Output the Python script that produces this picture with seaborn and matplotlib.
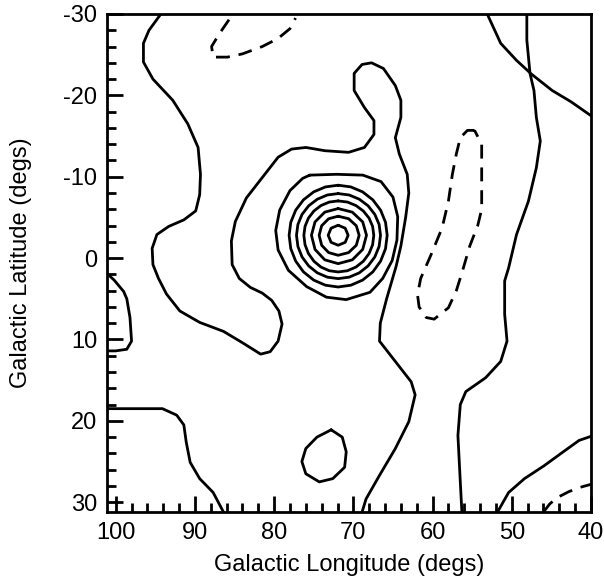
import matplotlib
matplotlib.use("Agg")
import matplotlib.pyplot as plt
from matplotlib.ticker import MultipleLocator
import seaborn as sns

# ---------------- data: traced contour lines (Galactic lon, lat in degrees) ----------------
# long solid contour running from the top edge down round the central source to the bottom edge
c1_lon = [94.3, 95.8, 96.5, 96.5, 95.3, 92.8, 90.9, 89.6, 89.3, 89.4, 89.9, 91.4, 93.3, 94.8,
          95.4, 95.3, 94.6, 93.6, 91.9, 89.4, 86.4, 84.0, 81.7, 80.5, 79.5, 79.0, 79.4, 80.3,
          81.5, 83.0, 84.4, 85.3, 85.4, 84.9, 83.5, 81.5, 79.5, 77.8, 76.0, 73.6, 70.6, 68.6,
          67.4, 67.4, 68.6, 69.9, 69.9, 68.9, 67.7, 66.2, 64.7, 64.0, 64.0, 64.7, 64.2, 63.2,
          63.0, 63.4, 64.0, 64.6, 65.8, 66.6, 66.7, 64.7, 62.7, 62.2, 63.0, 64.7, 66.7, 68.4, 68.9]
c1_lat = [-30.0, -28.0, -26.4, -24.1, -22.0, -19.4, -16.5, -13.6, -10.3, -7.8, -5.8, -4.7, -3.9, -2.9,
          -1.2, 0.8, 2.5, 4.4, 6.5, 7.9, 9.0, 10.4, 11.8, 11.5, 10.2, 8.1, 6.5, 5.2,
          4.3, 3.6, 2.5, 0.8, -2.1, -4.5, -7.4, -9.9, -12.4, -13.4, -13.6, -13.2, -13.0, -13.6,
          -15.2, -16.9, -18.5, -20.6, -22.7, -23.8, -24.0, -23.3, -21.2, -19.4, -17.3, -14.8, -12.8, -10.3,
          -8.0, -5.0, -1.5, 1.0, 5.0, 8.0, 10.2, 12.7, 15.2, 16.8, 20.1, 23.4, 26.7, 29.6, 31.2]

# small lobe on the left edge
c2_lon = [101.2, 100.2, 99.0, 98.6, 98.2, 98.0, 98.6, 100.0, 101.2]
c2_lat = [1.8, 2.7, 4.1, 5.0, 7.3, 10.2, 11.2, 11.4, 11.4]

# bottom-left contour
c3_lon = [101.2, 94.1, 92.3, 91.4, 91.1, 90.6, 89.4, 87.7, 86.4]
c3_lat = [18.5, 18.5, 19.3, 20.5, 22.6, 25.1, 27.1, 28.8, 31.2]

# small closed contour near the bottom
c4_lon = [72.8, 71.4, 70.9, 71.1, 72.6, 74.3, 76.0, 76.5, 76.0, 74.6, 72.8]
c4_lat = [21.1, 22.0, 23.8, 25.7, 27.1, 27.5, 26.5, 25.0, 23.4, 22.0, 21.1]

# right-hand contour running from bottom to top edge
c5_lon = [56.3, 56.5, 56.8, 56.5, 55.8, 53.3, 51.4, 50.6, 50.9, 50.9, 50.4, 49.4, 47.9, 46.9,
          46.4, 46.9, 47.2, 47.7, 48.1, 48.1]
c5_lat = [31.2, 27.5, 21.8, 18.0, 16.4, 14.7, 12.7, 10.2, 6.9, 2.8, 1.2, -2.9, -7.0, -11.1,
          -14.4, -17.3, -20.6, -22.7, -26.8, -30.0]

# top-right arc
c6_lon = [53.1, 51.4, 49.4, 47.5, 44.9, 42.5, 40.0]
c6_lat = [-30.0, -26.4, -24.3, -22.6, -20.6, -19.2, -17.5]

# bottom-right arc
c7_lon = [51.8, 50.4, 48.4, 45.9, 43.5, 41.5, 40.0]
c7_lat = [31.2, 28.8, 27.1, 25.5, 23.8, 22.4, 21.9]

# dashed (negative) contours
d1_lon = [85.7, 86.9, 87.9, 87.7, 85.9, 84.0, 81.5, 79.5, 78.0, 77.3]
d1_lat = [-29.3, -27.6, -26.0, -24.7, -24.7, -25.1, -26.0, -27.0, -28.2, -29.5]

d2_lon = [54.7, 55.6, 56.5, 57.0, 57.5, 58.0, 58.8, 60.2, 61.5, 61.9, 61.7, 60.8, 59.8, 58.0,
          57.0, 56.2, 55.3, 54.3, 53.8, 53.8, 53.8, 54.7]
d2_lat = [-15.7, -15.7, -14.8, -12.8, -10.3, -7.0, -3.7, -0.4, 2.5, 4.5, 6.0, 7.3, 7.5, 6.1,
          4.0, 1.5, -1.5, -4.0, -6.0, -10.0, -14.0, -15.7]

d3_lon = [46.0, 45.2, 44.2, 42.8, 41.5, 40.0]
d3_lat = [31.2, 30.2, 29.4, 28.7, 28.2, 27.8]

# concentric rings around the central source (outermost first)
r7_lon = [75.5, 72.1, 68.8, 66.5, 65.0, 64.4, 64.5, 65.1, 66.3, 67.9, 70.9, 73.4, 75.9, 78.2,
          79.5, 79.8, 79.3, 78.0, 76.4, 75.5]
r7_lat = [-10.2, -10.3, -10.2, -9.4, -7.5, -5.1, -2.2, 0.3, 2.5, 4.2, 5.1, 4.8, 3.5, 1.5,
          -1.0, -3.4, -5.9, -8.3, -9.8, -10.2]

r6_lon = [71.92, 70.32, 68.83, 67.54, 66.56, 65.94, 65.73, 65.94, 66.56, 67.54, 68.83, 70.32, 71.92,
          73.52, 75.01, 76.30, 77.28, 77.90, 78.11, 77.90, 77.28, 76.30, 75.01, 73.52, 71.92]
r6_lat = [-8.96, -8.75, -8.14, -7.16, -5.89, -4.40, -2.81, -1.16, 0.37, 1.69, 2.70, 3.33, 3.55,
          3.33, 2.70, 1.69, 0.37, -1.16, -2.81, -4.40, -5.89, -7.16, -8.14, -8.75, -8.96]

r5_lon = [71.92, 70.53, 69.25, 68.14, 67.29, 66.75, 66.57, 66.75, 67.29, 68.14, 69.25, 70.53, 71.92,
          73.28, 74.55, 75.64, 76.48, 77.00, 77.18, 77.00, 76.48, 75.64, 74.55, 73.28, 71.92]
r5_lat = [-7.93, -7.76, -7.24, -6.43, -5.37, -4.14, -2.81, -1.43, -0.15, 0.96, 1.81, 2.34, 2.52,
          2.34, 1.81, 0.96, -0.15, -1.43, -2.81, -4.14, -5.37, -6.43, -7.24, -7.76, -7.93]

r4_lon = [71.92, 70.75, 69.67, 68.74, 68.02, 67.57, 67.42, 67.57, 68.02, 68.74, 69.67, 70.75, 71.92,
          73.04, 74.09, 74.98, 75.67, 76.10, 76.25, 76.10, 75.67, 74.98, 74.09, 73.04, 71.92]
r4_lat = [-7.03, -6.89, -6.46, -5.79, -4.92, -3.90, -2.81, -1.64, -0.56, 0.38, 1.10, 1.55, 1.70,
          1.55, 1.10, 0.38, -0.56, -1.64, -2.81, -3.90, -4.92, -5.79, -6.46, -6.89, -7.03]

r3_lon = [71.92, 70.13, 68.82, 68.34, 68.82, 70.13, 71.92, 73.61, 74.84, 75.29, 74.84, 73.61, 71.92]
r3_lat = [-6.09, -5.65, -4.45, -2.81, -1.07, 0.21, 0.68, 0.21, -1.07, -2.81, -4.45, -5.65, -6.09]

r2_lon = [71.92, 70.60, 69.63, 69.27, 69.63, 70.60, 71.92, 73.12, 74.00, 74.32, 74.00, 73.12, 71.92]
r2_lat = [-5.15, -4.84, -3.98, -2.81, -1.58, -0.68, -0.35, -0.68, -1.58, -2.81, -3.98, -4.84, -5.15]

r1_lon = [71.92, 71.03, 70.66, 71.03, 71.92, 72.81, 73.18, 72.81, 71.92]
r1_lat = [-4.04, -3.68, -2.81, -1.94, -1.58, -1.94, -2.81, -3.68, -4.04]

solid = [(c1_lon, c1_lat), (c2_lon, c2_lat), (c3_lon, c3_lat), (c4_lon, c4_lat),
         (c5_lon, c5_lat), (c6_lon, c6_lat), (c7_lon, c7_lat),
         (r7_lon, r7_lat), (r6_lon, r6_lat), (r5_lon, r5_lat), (r4_lon, r4_lat),
         (r3_lon, r3_lat), (r2_lon, r2_lat), (r1_lon, r1_lat)]
dashed = [(d1_lon, d1_lat), (d2_lon, d2_lat), (d3_lon, d3_lat)]

x_label = "Galactic Longitude (degs)"
y_label = "Galactic Latitude (degs)"

# ---------------- style ----------------
sns.set_style("white", {"axes.edgecolor": "black", "text.color": "black",
                        "xtick.color": "black", "ytick.color": "black",
                        "axes.labelcolor": "black"})
plt.rcParams["font.family"] = ["Liberation Sans", "DejaVu Sans"]
plt.rcParams["axes.unicode_minus"] = False

W, H = 604, 581
fig = plt.figure(figsize=(W / 100, H / 100), dpi=100)
ax = fig.add_axes([107 / W, 1 - 512 / H, (591 - 107) / W, (512 - 14) / H])

for lon, lat in solid:
    sns.lineplot(x=lon, y=lat, sort=False, estimator=None, color="black",
                 linewidth=2.0, ax=ax, solid_joinstyle="round", solid_capstyle="round")
for lon, lat in dashed:
    sns.lineplot(x=lon, y=lat, sort=False, estimator=None, color="black",
                 linewidth=2.0, linestyle=(0, (5, 3.2)), ax=ax)

ax.set_xlim(101.1, 40)
ax.set_ylim(31.2, -30)
ax.xaxis.set_major_locator(MultipleLocator(10))
ax.xaxis.set_minor_locator(MultipleLocator(2))
ax.yaxis.set_major_locator(MultipleLocator(10))
ax.yaxis.set_minor_locator(MultipleLocator(2))
ax.tick_params(which="both", direction="in", top=False, right=False,
               bottom=True, left=True, width=2, color="black", labelsize=17)
ax.tick_params(which="major", length=11.5, pad=7)
ax.tick_params(which="minor", length=6.5)
for s in ax.spines.values():
    s.set_linewidth(2.0)
    s.set_color("black")

ax.set_xlabel(x_label, fontsize=17)
ax.set_ylabel(y_label, fontsize=17)
ax.xaxis.set_label_coords(0.5, -0.085)
ax.yaxis.set_label_coords(-0.155, 0.5)

fig.savefig("out.png", dpi=100)
